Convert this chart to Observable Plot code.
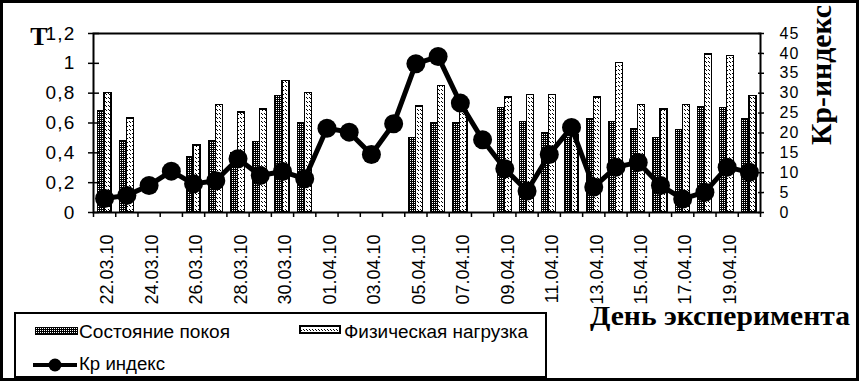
<!DOCTYPE html>
<html><head><meta charset="utf-8">
<script src="https://cdn.jsdelivr.net/npm/d3@7"></script>
<script src="https://cdn.jsdelivr.net/npm/@observablehq/plot@0.6"></script>
<style>
body{margin:0;background:#fff;}
#wrap{position:relative;width:859px;height:381px;overflow:hidden;background:#fff;}
#wrap > svg{position:absolute;left:0;top:0;}
#overlay{position:absolute;left:0;top:0;pointer-events:none;}
#border{position:absolute;left:0;top:0;width:859px;height:381px;box-sizing:border-box;border:3px solid #000;}
g[aria-label="y-axis tick label"] text{letter-spacing:1.2px;}
</style></head><body>
<div id="wrap"><div id="border"></div></div>
<script>
const days = ["22.03.10","23.03.10","24.03.10","25.03.10","26.03.10","27.03.10","28.03.10","29.03.10","30.03.10","31.03.10",
  "01.04.10","02.04.10","03.04.10","04.04.10","05.04.10","06.04.10","07.04.10","08.04.10","09.04.10","10.04.10",
  "11.04.10","12.04.10","13.04.10","14.04.10","15.04.10","16.04.10","17.04.10","18.04.10","19.04.10","20.04.10"];
const rest = [0.68,0.48,null,null,0.37,0.48,0.40,0.47,0.78,0.60,
  null,null,null,null,0.50,0.60,0.60,null,0.70,0.61,
  0.53,0.50,0.63,0.61,0.56,0.50,0.55,0.71,0.70,0.63];
const load = [0.80,0.63,null,null,0.45,0.72,0.67,0.69,0.88,0.80,
  null,null,null,null,0.71,0.85,0.68,null,0.77,0.79,
  0.79,0.52,0.77,1.00,0.72,0.69,0.72,1.06,1.05,0.78];
const kr = [3.5,4.3,6.8,10.4,7.2,8.0,13.5,9.3,10.3,8.5,
  21.2,20.2,14.6,22.3,37.4,39.2,27.5,18.3,11.0,5.4,
  14.6,21.4,6.4,11.4,12.6,6.8,3.4,5.1,11.4,10.1];
const leftTicks = [0,0.2,0.4,0.6,0.8,1,1.2];
const rightTicks = [0,5,10,15,20,25,30,35,40,45];
const T_MAX = 1.2, KR_MAX = 45;

const rows = days.map((d,i)=>({i, day:d, rest:rest[i], load:load[i], kr:kr[i]}));
const toT = k => k / KR_MAX * T_MAX;
const fmtT = v => v === 0 ? "0" : String(Math.round(v*10)/10).replace(".", ",");

const chart = Plot.plot({
  width: 859, height: 381,
  marginLeft: 93, marginRight: 99, marginTop: 33, marginBottom: 169,
  x: {type: "linear", domain: [0, days.length]},
  y: {domain: [0, T_MAX]},
  style: {fontFamily: "'Liberation Sans', Arial, sans-serif", color: "black", background: "transparent"},
  marks: [
    Plot.rectY(rows.filter(d => d.rest != null), {x: "i", interval: 1, y: "rest", insetLeft: 4.1, insetRight: 11.1,
      fill: "url(#restPat)", stroke: "black", strokeWidth: 1, shapeRendering: "crispEdges"}),
    Plot.rectY(rows.filter(d => d.load != null), {x: "i", interval: 1, y: "load", insetLeft: 11.1, insetRight: 4.1,
      fill: "url(#loadPat)", stroke: "black", strokeWidth: 1.3, shapeRendering: "crispEdges"}),
    Plot.line(rows, {x: d => d.i + 0.5, y: d => toT(d.kr), stroke: "black", strokeWidth: 5}),
    Plot.dot(rows, {x: d => d.i + 0.5, y: d => toT(d.kr), r: 9.5, fill: "black", stroke: "none"}),
    Plot.frame({stroke: "black", strokeWidth: 2}),
    Plot.axisY({anchor: "left", ticks: leftTicks, tickFormat: fmtT, tickSize: 5, tickPadding: 13, fontSize: 19, label: null, strokeWidth: 1.5}),
    Plot.axisY({anchor: "left", ticks: leftTicks, tickFormat: () => "", tickSize: -6, label: null, strokeWidth: 1.5}),
    Plot.axisY({anchor: "right", ticks: rightTicks.map(toT), tickFormat: v => String(Math.round(v / T_MAX * KR_MAX)), tickSize: 3, tickPadding: 16, fontSize: 16, label: null, strokeWidth: 1.5}),
    Plot.axisY({anchor: "right", ticks: rightTicks.map(toT), tickFormat: () => "", tickSize: -3, label: null, strokeWidth: 1.5}),
    Plot.axisX({ticks: d3.range(0, days.length + 1), tickFormat: () => "", tickSize: 5, label: null, strokeWidth: 1.5}),
    Plot.axisX({ticks: d3.range(0, days.length, 2).map(i => i + 0.5), tickFormat: v => days[Math.floor(v)],
      tickSize: 0, tickPadding: 22, tickRotate: -90, fontSize: 18, dx: 3, label: null})
  ]
});
const wrap = document.getElementById("wrap");
wrap.insertBefore(chart, wrap.firstChild);

const ov = d3.select(wrap).append("svg").attr("id","overlay").attr("width",859).attr("height",381);
const defs = ov.append("defs");
const rp = defs.append("pattern").attr("id","restPat").attr("patternUnits","userSpaceOnUse").attr("width",2).attr("height",2);
rp.append("rect").attr("width",2).attr("height",2).attr("fill","#000");
rp.append("rect").attr("x",0).attr("y",0).attr("width",1).attr("height",1).attr("fill","#fff");
const lp = defs.append("pattern").attr("id","loadPat").attr("patternUnits","userSpaceOnUse").attr("width",3).attr("height",4);
lp.append("rect").attr("width",3).attr("height",4).attr("fill","#fff");
lp.append("path").attr("d","M0,1L2,3").attr("stroke","#000").attr("stroke-width",1);

const serif = "'Liberation Serif','Times New Roman',serif";
const sans = "'Liberation Sans',Arial,sans-serif";
function txt(x, y, s, size, opts = {}) {
  const t = ov.append("text").attr("x",x).attr("y",y).attr("font-size",size)
    .attr("font-family", opts.serif ? serif : sans).text(s);
  if (opts.bold) t.attr("font-weight","bold");
  if (opts.len) t.attr("textLength",opts.len).attr("lengthAdjust","spacingAndGlyphs");
  if (opts.anchor) t.attr("text-anchor",opts.anchor);
  if (opts.transform) t.attr("transform",opts.transform);
  return t;
}
txt(39, 45, "Т", 26, {serif:true, bold:true, anchor:"middle"});
txt(0, 0, "Кр-индекс", 29, {serif:true, bold:true, anchor:"middle", transform:"translate(831,75) rotate(-90)", len:140});
txt(590, 325, "День эксперимента", 27, {serif:true, bold:true, len:260});

// legend
ov.append("rect").attr("x",15).attr("y",313).attr("width",531).attr("height",64).attr("fill","#fff").attr("stroke","#000").attr("stroke-width",2);
ov.append("rect").attr("x",35).attr("y",327).attr("width",42).attr("height",7).attr("fill","url(#restPat)").attr("stroke","#000").attr("stroke-width",1).attr("shape-rendering","crispEdges");
txt(79, 338, "Состояние покоя", 18, {len:151});
ov.append("rect").attr("x",300).attr("y",326).attr("width",40).attr("height",7).attr("fill","url(#loadPat)").attr("stroke","#000").attr("stroke-width",1.3).attr("shape-rendering","crispEdges");
txt(344, 338, "Физическая нагрузка", 18, {len:184});
ov.append("line").attr("x1",33).attr("x2",77).attr("y1",365).attr("y2",365).attr("stroke","#000").attr("stroke-width",4);
ov.append("circle").attr("cx",55).attr("cy",365).attr("r",6.5).attr("fill","#000");
txt(79, 370, "Кр индекс", 18, {len:86});
</script>
</body></html>
